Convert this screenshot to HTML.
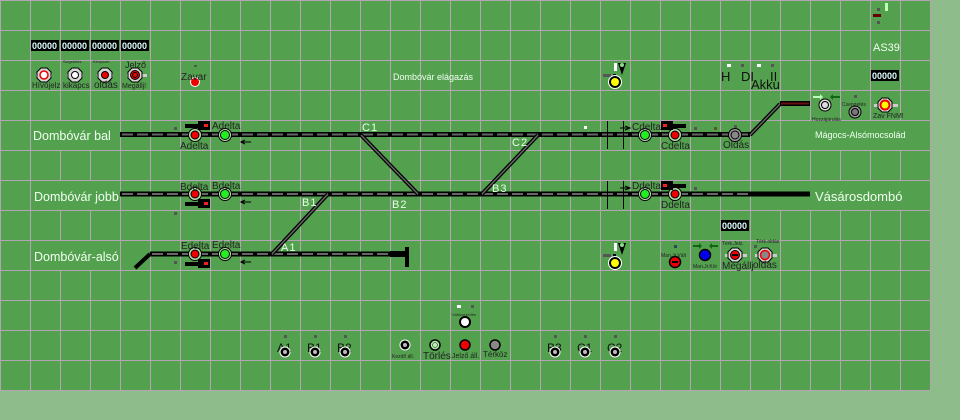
<!DOCTYPE html>
<html><head><meta charset="utf-8"><style>
html,body{margin:0;padding:0;background:#8fbc8b;}
svg{display:block;font-family:"Liberation Sans",sans-serif;}
</style></head><body>
<svg width="960" height="420" viewBox="0 0 960 420" xmlns="http://www.w3.org/2000/svg">
<defs>
<g id="btn"><polygon points="-3,-7 3,-7 7,-3 7,3 3,7 -3,7 -7,3 -7,-3" fill="#d8d8d8" stroke="#000" stroke-width="1"/></g>
<g id="sig"><circle r="6.5" fill="#b8e0b0" stroke="#000" stroke-width="1"/></g>
</defs>
<rect width="960" height="420" fill="#8fbc8b"/>
<rect x="0" y="0" width="930" height="390" fill="#53a14f"/>
<g stroke="#b4a4b4" stroke-width="1">
<path d="M0.5 0V390M30.5 0V390M60.5 0V390M90.5 0V390M120.5 0V390M150.5 0V390M180.5 0V390M210.5 0V390M240.5 0V390M270.5 0V390M300.5 0V390M330.5 0V390M360.5 0V390M390.5 0V390M420.5 0V390M450.5 0V390M480.5 0V390M510.5 0V390M540.5 0V390M570.5 0V390M600.5 0V390M630.5 0V390M660.5 0V390M690.5 0V390M720.5 0V390M750.5 0V390M780.5 0V390M810.5 0V390M840.5 0V390M870.5 0V390M900.5 0V390M930.5 0V390"/>
<path d="M0 0.5H930M0 30.5H930M0 60.5H930M0 90.5H930M0 120.5H930M0 150.5H930M0 180.5H930M0 210.5H930M0 240.5H930M0 270.5H930M0 300.5H930M0 330.5H930M0 360.5H930M0 390.5H930"/>
</g>
<g fill="#53a14f">
<rect x="31" y="121" width="89" height="29"/>
<rect x="31" y="181" width="89" height="29"/>
<rect x="31" y="241" width="89" height="29"/>
<rect x="781" y="121" width="149" height="29"/>
<rect x="751" y="181" width="179" height="29"/>
</g>
<g>
<rect x="120" y="132" width="630" height="5" fill="#000"/>
<line x1="120" y1="134.5" x2="750" y2="134.5" stroke="#666" stroke-width="2" stroke-dasharray="11 4" stroke-dashoffset="-2"/>
<rect x="120" y="191.5" width="690" height="5" fill="#000"/>
<line x1="120" y1="194" x2="750" y2="194" stroke="#666" stroke-width="2" stroke-dasharray="11 4" stroke-dashoffset="-2"/>
<rect x="750" y="192" width="60" height="4" fill="#000"/>
<rect x="150" y="251.5" width="240" height="5" fill="#000"/>
<line x1="150" y1="254" x2="390" y2="254" stroke="#666" stroke-width="2" stroke-dasharray="11 4" stroke-dashoffset="-2"/>
<rect x="390" y="251" width="17" height="6" fill="#000"/>
<rect x="405" y="247" width="4" height="20" fill="#000"/>
</g>
<g stroke="#000" stroke-width="4" stroke-linecap="butt">
<line x1="361" y1="135" x2="418" y2="194"/>
<line x1="538" y1="135" x2="482" y2="194"/>
<line x1="328" y1="194" x2="272" y2="254"/>
<line x1="150" y1="254" x2="135" y2="268"/>
<line x1="750" y1="135" x2="780" y2="104"/>
</g>
<g stroke="#666" stroke-width="1.5">
<line x1="361" y1="135" x2="418" y2="194"/>
<line x1="538" y1="135" x2="482" y2="194"/>
<line x1="328" y1="194" x2="272" y2="254"/>
<line x1="750" y1="135" x2="780" y2="104"/>
</g>
<rect x="780" y="101" width="30" height="5" fill="#000"/>
<rect x="781" y="102.5" width="28" height="2" fill="#6a1010"/>
<g stroke="#000" stroke-width="1"><path d="M607.5 121V149M623.5 121V149M607.5 181V209M623.5 181V209"/></g>
<g fill="#e8ffe8" font-size="11" letter-spacing="1">
<text x="362" y="131">C1</text><text x="512" y="146">C2</text>
<text x="302" y="206">B1</text><text x="392" y="208">B2</text><text x="492" y="192">B3</text>
<text x="281" y="251">A1</text>
</g>
<g fill="#f0fff0" font-size="12.5">
<text x="33" y="140">Dombóvár bal</text>
<text x="34" y="201">Dombóvár jobb</text>
<text x="34" y="261">Dombóvár-alsó</text>
<text x="815" y="201" font-size="13">Vásárosdombó</text>
<text x="815" y="138" font-size="9">Mágocs-Alsómocsolád</text>
<text x="393" y="80" font-size="9">Dombóvár elágazás</text>
<text x="873" y="51" font-size="11">AS39</text>
</g>
<g font-size="9" fill="#dff" font-weight="bold">
<rect x="31" y="40" width="28" height="11" fill="#000"/><text x="32" y="49">00000</text>
<rect x="61" y="40" width="28" height="11" fill="#000"/><text x="62" y="49">00000</text>
<rect x="91" y="40" width="28" height="11" fill="#000"/><text x="92" y="49">00000</text>
<rect x="121" y="40" width="28" height="11" fill="#000"/><text x="122" y="49">00000</text>
<rect x="871" y="70" width="28" height="11" fill="#000"/><text x="872" y="79">00000</text>
<rect x="721" y="220" width="28" height="11" fill="#000"/><text x="722" y="229">00000</text>
</g>
<g stroke="#000" stroke-width="1">
<rect x="36" y="74" width="16" height="3" fill="#ccc" stroke="none"/>
<use href="#btn" x="44" y="75"/><circle cx="44" cy="75" r="4" fill="#fff" stroke="#e00" stroke-width="1.5"/>
<rect x="67" y="74" width="16" height="3" fill="#ccc" stroke="none"/>
<use href="#btn" x="75" y="75"/><circle cx="75" cy="75" r="3.5" fill="#fff"/>
<rect x="97" y="74" width="16" height="3" fill="#ccc" stroke="none"/>
<use href="#btn" x="105" y="75"/><circle cx="105" cy="75" r="3.5" fill="#e00"/>
<rect x="127" y="74" width="20" height="3" fill="#ccc" stroke="none"/>
<use href="#btn" x="135" y="75"/><circle cx="135" cy="75" r="4.5" fill="#e00"/><circle cx="135" cy="75" r="2.5" fill="#e00"/>
<circle cx="195" cy="82" r="4.5" fill="#e00" stroke="#fff"/>
</g>
<g fill="#222" font-size="8">
<text x="32" y="88">Hívójelz</text><text x="63" y="88">kikapcs</text><text x="94" y="88" font-size="10">oldás</text>
<text x="122" y="88" font-size="7">Megállj!</text><text x="125" y="68" font-size="9">Jelző</text>
<text x="63" y="63" font-size="4">Szigetelés</text><text x="93" y="63" font-size="4">Kényszer</text>
<text x="181" y="80" font-size="10">Zavar</text>
<rect x="194" y="65" width="3" height="2" fill="#555"/>
</g>
<g>
<use href="#sig" x="195" y="135"/><circle cx="195" cy="135" r="4" fill="#e00" stroke="#000"/>
<use href="#sig" x="225" y="135"/><circle cx="225" cy="135" r="4.5" fill="#2e2" stroke="#000"/>
<use href="#sig" x="195" y="194"/><circle cx="195" cy="194" r="4" fill="#e00" stroke="#000"/>
<use href="#sig" x="225" y="194"/><circle cx="225" cy="194" r="4.5" fill="#2e2" stroke="#000"/>
<use href="#sig" x="195" y="254"/><circle cx="195" cy="254" r="4" fill="#e00" stroke="#000"/>
<use href="#sig" x="225" y="254"/><circle cx="225" cy="254" r="4.5" fill="#2e2" stroke="#000"/>
<use href="#sig" x="645" y="135"/><circle cx="645" cy="135" r="4.5" fill="#2e2" stroke="#000"/>
<use href="#sig" x="675" y="135"/><circle cx="675" cy="135" r="4" fill="#e00" stroke="#000"/>
<use href="#sig" x="645" y="194"/><circle cx="645" cy="194" r="4.5" fill="#2e2" stroke="#000"/>
<use href="#sig" x="675" y="194"/><circle cx="675" cy="194" r="4" fill="#e00" stroke="#000"/>
<circle cx="735" cy="135" r="6.5" fill="#999" stroke="#000"/><circle cx="735" cy="135" r="4" fill="#888" stroke="#000"/>
</g>
<g fill="#000">
<rect x="185" y="124" width="25" height="4"/><rect x="198" y="121" width="12" height="9"/><rect x="204" y="124" width="4" height="3" fill="#e22"/>
<rect x="185" y="202" width="25" height="4"/><rect x="198" y="199" width="12" height="9"/><rect x="204" y="202" width="4" height="3" fill="#e22"/>
<rect x="185" y="262" width="25" height="4"/><rect x="198" y="259" width="12" height="9"/><rect x="204" y="262" width="4" height="3" fill="#e22"/>
<rect x="661" y="124" width="25" height="4"/><rect x="661" y="121" width="12" height="9"/><rect x="663" y="124" width="4" height="3" fill="#e22"/>
<rect x="661" y="184" width="25" height="4"/><rect x="661" y="181" width="12" height="9"/><rect x="663" y="184" width="4" height="3" fill="#e22"/>
</g>
<g fill="#555">
<rect x="174" y="127" width="3" height="3"/><rect x="174" y="212" width="3" height="3"/><rect x="174" y="261" width="3" height="3"/>
<rect x="694" y="187" width="3" height="3"/><rect x="734" y="125" width="3" height="3"/><rect x="694" y="127" width="3" height="3"/>
<rect x="714" y="127" width="3" height="3" fill="#553"/><rect x="584" y="126" width="3" height="3" fill="#fff"/>
</g>
<g stroke="#000" stroke-width="1" fill="none">
<path d="M241 142H251M245 140L241 142L245 144"/><path d="M241 202H251M245 200L241 202L245 204"/><path d="M241 262H251M245 260L241 262L245 264"/>
<path d="M620 128H630M625 126L630 128L625 130"/><path d="M620 188H630M625 186L630 188L625 190"/>
</g>
<g fill="#222" font-size="10">
<text x="180" y="149">Adelta</text><text x="212" y="129">Adelta</text>
<text x="180" y="190">Bdelta</text><text x="212" y="189">Bdelta</text>
<text x="181" y="249">Edelta</text><text x="212" y="248">Edelta</text>
<text x="632" y="130">Cdelta</text><text x="661" y="149">Cdelta</text>
<text x="632" y="189">Ddelta</text><text x="661" y="208">Ddelta</text>
<text x="723" y="148">Oldás</text>
</g>
<g>
<rect x="603" y="74" width="8" height="3" fill="#555"/><rect x="614" y="63" width="3" height="8" fill="#fff"/>
<polygon points="618,63 626,63 622,75" fill="#000"/><circle cx="622" cy="65" r="2" fill="#8d8"/>
<rect x="613" y="74" width="3" height="3" fill="#002"/>
<circle cx="615" cy="82" r="5" fill="#ff0" stroke="#000" stroke-width="2"/><circle cx="615" cy="82" r="6.5" fill="none" stroke="#fff"/>
<rect x="603" y="254" width="8" height="3" fill="#555"/><rect x="614" y="243" width="3" height="8" fill="#fff"/>
<polygon points="618,243 626,243 622,255" fill="#000"/><circle cx="622" cy="245" r="2" fill="#8d8"/>
<rect x="613" y="254" width="3" height="3" fill="#002"/>
<circle cx="615" cy="263" r="5" fill="#ff0" stroke="#000" stroke-width="2"/><circle cx="615" cy="263" r="6.5" fill="none" stroke="#fff"/>
</g>
<g fill="#111" font-size="13">
<rect x="727" y="64" width="4" height="3" fill="#fff"/><rect x="741" y="64" width="3" height="3" fill="#555"/>
<rect x="757" y="64" width="4" height="3" fill="#fff"/><rect x="771" y="64" width="3" height="3" fill="#555"/>
<text x="721" y="81">H</text><text x="741" y="81">DI</text><text x="770" y="81">II</text><text x="751" y="89">Akku</text>
</g>
<rect x="885" y="3" width="3" height="8" fill="#bfb"/><rect x="877" y="8" width="3" height="3" fill="#555"/>
<rect x="873" y="14" width="8" height="3" fill="#600"/><rect x="877" y="21" width="3" height="3" fill="#555"/>
<g>
<polygon points="813,96 820,96 820,94 823,97 820,100 820,98 813,98" fill="#bfb"/>
<polygon points="840,96 833,96 833,94 830,97 833,100 833,98 840,98" fill="#161"/>
<circle cx="825" cy="105" r="6" fill="#ddd" stroke="#000"/><circle cx="825" cy="105" r="3.5" fill="#ddd" stroke="#000"/>
<rect x="854" y="95" width="3" height="3" fill="#555"/>
<circle cx="855" cy="112" r="6" fill="#999" stroke="#000"/><circle cx="855" cy="112" r="3.5" fill="#777" stroke="#000"/>
<rect x="874" y="104" width="24" height="3" fill="#ccc"/>
<use href="#btn" x="885" y="105"/><circle cx="885" cy="105" r="4.5" fill="#ff0" stroke="#e00" stroke-width="2"/>
</g>
<g fill="#222" font-size="5"><text x="812" y="121">Hozzájárulás</text><text x="842" y="106">Csengetés</text><text x="873" y="118" font-size="7">Zav FNM!</text></g>
<g>
<rect x="674" y="245" width="3" height="3" fill="#345"/>
<circle cx="675" cy="262" r="5.5" fill="#e00" stroke="#000" stroke-width="1.5"/><rect x="672" y="261" width="6" height="2" fill="#000"/>
<polygon points="693,245 699,245 699,243 702,246 699,249 699,247 693,247" fill="#161"/>
<polygon points="718,245 712,245 712,243 709,246 712,249 712,247 718,247" fill="#161"/>
<circle cx="705" cy="255" r="5.5" fill="#00e" stroke="#000" stroke-width="1.5"/>
<rect x="725" y="254" width="22" height="3" fill="#ccc"/>
<use href="#btn" x="735" y="255"/><circle cx="735" cy="255" r="4.5" fill="#e00" stroke="#000"/><rect x="732" y="254" width="6" height="2" fill="#000"/>
<rect x="755" y="254" width="22" height="3" fill="#ccc"/>
<use href="#btn" x="765" y="255"/><circle cx="765" cy="255" r="4.5" fill="#888" stroke="#e00" stroke-width="1.5"/>
<rect x="754" y="245" width="3" height="3" fill="#555"/>
</g>
<g fill="#222" font-size="5">
<text x="661" y="257">Man.Jr.Vált</text><text x="693" y="268">Man.Jr.Kör</text><text x="722" y="245">Térk.Jelz.</text><text x="756" y="243">Térk.oldás</text>
<text x="722" y="269" font-size="10">Megállj</text><text x="753" y="268" font-size="10">oldás</text>
</g>
<g fill="#555">
<rect x="284" y="335" width="3" height="3"/><rect x="314" y="335" width="3" height="3"/><rect x="344" y="335" width="3" height="3"/>
<rect x="554" y="335" width="3" height="3"/><rect x="584" y="335" width="3" height="3"/><rect x="614" y="335" width="3" height="3"/>
<rect x="457" y="305" width="4" height="3" fill="#fff"/><rect x="471" y="305" width="3" height="3"/>
</g>
<g fill="#111" font-size="12">
<text x="277" y="352">A1</text><text x="307" y="352">B1</text><text x="337" y="352">B2</text>
<text x="547" y="352">B3</text><text x="577" y="352">C1</text><text x="607" y="352">C2</text>
</g>
<g stroke="#fff" stroke-width="1">
<circle cx="285" cy="352" r="5" fill="#000"/><circle cx="315" cy="352" r="5" fill="#000"/><circle cx="345" cy="352" r="5" fill="#000"/>
<circle cx="555" cy="352" r="5" fill="#000"/><circle cx="585" cy="352" r="5" fill="#000"/><circle cx="615" cy="352" r="5" fill="#000"/>
<circle cx="405" cy="345" r="5" fill="#000"/>
</g>
<g fill="#bbb"><circle cx="285" cy="352" r="2"/><circle cx="315" cy="352" r="2"/><circle cx="345" cy="352" r="2"/><circle cx="555" cy="352" r="2"/><circle cx="585" cy="352" r="2"/><circle cx="615" cy="352" r="2"/><circle cx="405" cy="345" r="2"/></g>
<circle cx="465" cy="322" r="5" fill="#fff" stroke="#000" stroke-width="2"/>
<circle cx="435" cy="345" r="5" fill="#b8f0b0" stroke="#000" stroke-width="1.5"/><circle cx="435" cy="345" r="2.5" fill="none" stroke="#000" stroke-width="0.5"/>
<circle cx="465" cy="345" r="5" fill="#e00" stroke="#000" stroke-width="1.5"/>
<circle cx="495" cy="345" r="5" fill="#888" stroke="#000" stroke-width="1.5"/>
<g fill="#222">
<text x="452" y="316" font-size="4">Váltóvezérlés</text>
<text x="392" y="358" font-size="5">Kezdő áll.</text>
<text x="423" y="359" font-size="10">Törlés</text>
<text x="452" y="358" font-size="7">Jelző áll.</text>
<text x="483" y="357" font-size="8">Térköz</text>
</g>
</svg>
</body></html>
